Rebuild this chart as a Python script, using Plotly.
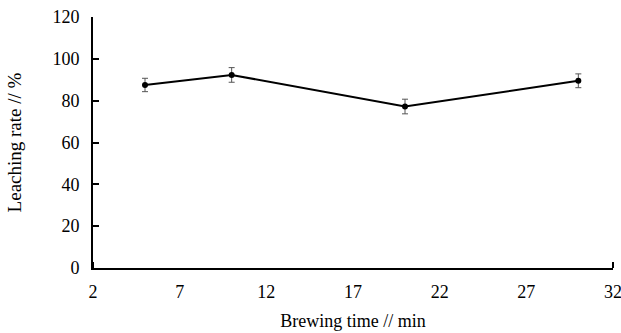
import plotly.graph_objects as go

time_min = [5, 10, 20, 30]
leaching_rate = [87.5, 92.3, 77.2, 89.5]
error = [3.2, 3.5, 3.5, 3.3]

x_ticks = [2, 7, 12, 17, 22, 27, 32]
y_ticks = [0, 20, 40, 60, 80, 100, 120]

font_family = "Liberation Serif"

fig = go.Figure()
fig.add_trace(go.Scatter(
    x=time_min, y=leaching_rate,
    mode="lines+markers",
    line=dict(color="black", width=2),
    marker=dict(color="black", size=6),
    error_y=dict(type="data", array=error, visible=True, color="#555555", thickness=1, width=3),
    showlegend=False,
))

fig.update_layout(
    width=621, height=333,
    margin=dict(l=93, r=8, t=17, b=65),
    paper_bgcolor="white", plot_bgcolor="white",
    font=dict(family=font_family, color="black", size=18),
    xaxis=dict(
        range=[2, 32], tickvals=x_ticks, ticktext=[str(v) for v in x_ticks],
        showline=True, linecolor="black", linewidth=2, ticks="",
        showgrid=False, zeroline=False, automargin=False,
        tickfont=dict(size=18, family=font_family),
        ticklabeloverflow="allow", ticklabelstandoff=6,
        minor=dict(ticks="inside", tick0=2, dtick=30, ticklen=6, tickcolor="black", tickwidth=2, showgrid=False),
        title=dict(text="Brewing time // min", font=dict(size=18, family=font_family), standoff=14),
    ),
    yaxis=dict(
        range=[0, 120], tickvals=y_ticks,
        showline=True, linecolor="black", linewidth=2,
        ticks="inside", ticklen=6, tickwidth=2, tickcolor="black",
        showgrid=False, zeroline=False, automargin=False,
        tickfont=dict(size=18, family=font_family),
        ticklabelstandoff=8,
        title=dict(text="Leaching rate // %", font=dict(size=19, family=font_family), standoff=26),
    ),
)

fig.write_html("out.html")
